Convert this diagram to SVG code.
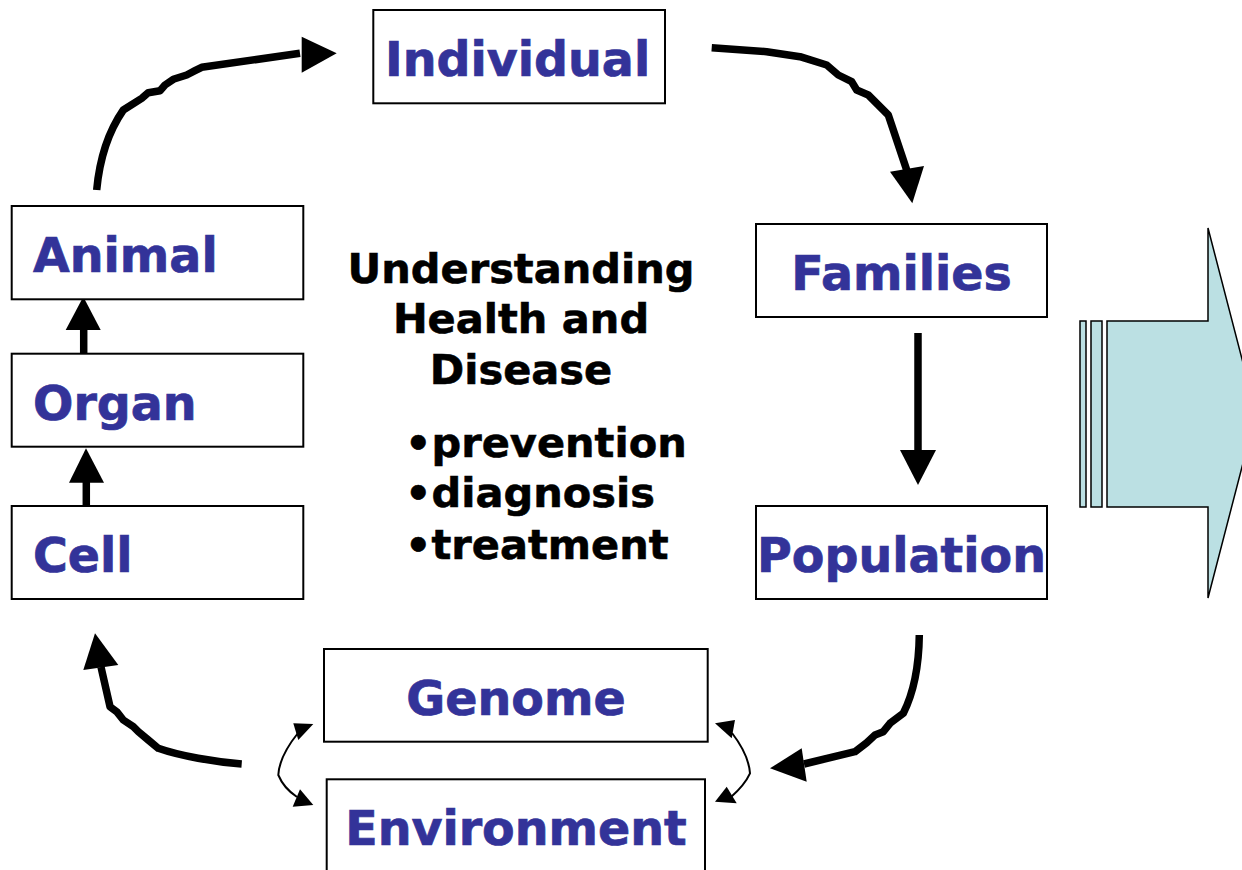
<svg xmlns="http://www.w3.org/2000/svg" width="1242" height="870" viewBox="0 0 1242 870">
<style>
.box{fill:#ffffff;stroke:#000000;stroke-width:2}
.lbl{font-family:"DejaVu Sans",Verdana,sans-serif;font-weight:bold;font-size:47.5px;fill:#333399;stroke:#333399;stroke-width:0.7}
.ctr{font-family:"DejaVu Sans",Verdana,sans-serif;font-weight:bold;font-size:41.5px;fill:#000000;stroke:#000000;stroke-width:0.6}
.thick{fill:none;stroke:#000000;stroke-width:7.5;stroke-linejoin:round}
.thin{fill:none;stroke:#000000;stroke-width:2}
.head{fill:#000000;stroke:none}
.big{fill:#BBE0E3;stroke:#000000;stroke-width:1.5;stroke-linejoin:miter}
</style>
<rect width="1242" height="870" fill="#ffffff"/>
<g id="connectors">
<path class="thick" d="M96.7,190 C99,165 106,135 123.3,110 L141.7,98.3 L148.3,92.7 L160,90.7 L165,85 L173.3,79.3 L186.7,75 L195,70.7 L201.7,67.3 L300,53.3"/>
<polygon class="head" points="301.7,36.7 336.7,53.3 301.7,72.7"/>
<path class="thick" d="M711.7,47.7 L766.7,51.7 L800,56.7 L826.7,65 L838.3,75 L851.7,81.7 L856.7,90 L868.3,95 L878.3,105 L888.3,115 L906.7,170"/>
<polygon class="head" points="890,171.7 924,166 912.3,203.3"/>
<path class="thick" d="M918,333 L918,452"/>
<polygon class="head" points="900,450 936,450 918,485"/>
<path class="thick" d="M919.3,635 C919,660 915,690 903.3,713.3 L890,723.3 L883.3,731.7 L875,735 L866.7,742.7 L855,751.7 L804,764"/>
<polygon class="head" points="801.7,748.3 806.7,781.7 770,768.3"/>
<path class="thick" d="M241.7,764 C215,762 180,756 158.3,748.3 L148.3,740 L138.3,731.7 L133.3,726.7 L123.3,720 L116.7,711.7 L110,706.7 L101,667"/>
<polygon class="head" points="95,633.3 83.3,670 118.3,665"/>
<path class="thick" d="M83.7,354 L83.7,328"/>
<polygon class="head" points="83.3,296.7 65.7,330 100.7,330"/>
<path class="thick" d="M86.3,506 L86.3,480"/>
<polygon class="head" points="86,448.3 69,482.7 104,482.7"/>
<path class="thin" d="M298,733 C286,748 279,762 278.3,775 C282,784 288,791 297,797"/>
<polygon class="head" points="293.3,723.3 313.3,724 298.3,740"/>
<polygon class="head" points="300,789.3 292.7,806.7 313.3,805"/>
<path class="thin" d="M732,733 C742,746 749,760 750,773.3 C746,782 740,789 731,797"/>
<polygon class="head" points="715,723.3 735,720 731.7,738.3"/>
<polygon class="head" points="715,801.7 726.7,786.7 736.7,803.3"/>
</g>
<g id="bigarrow">
<rect class="big" x="1080" y="321" width="6" height="186"/>
<rect class="big" x="1091" y="321" width="11" height="186"/>
<polygon class="big" points="1107,321 1208,321 1208,228 1256,413 1208,598 1208,507 1107,507"/>
</g>
<g id="individual">
<rect class="box" x="373.3" y="10" width="291.7" height="93.3"/>
<text class="lbl" x="385" y="76">Individual</text>
</g>
<g id="animal">
<rect class="box" x="11.7" y="206" width="291.6" height="93.3"/>
<text class="lbl" x="33" y="272">Animal</text>
</g>
<g id="organ">
<rect class="box" x="11.7" y="353.7" width="291.6" height="93"/>
<text class="lbl" x="33" y="420">Organ</text>
</g>
<g id="cell">
<rect class="box" x="11.7" y="506" width="291.6" height="93"/>
<text class="lbl" x="33" y="572">Cell</text>
</g>
<g id="families">
<rect class="box" x="756" y="224" width="291" height="93"/>
<text class="lbl" x="901.5" y="290" text-anchor="middle">Families</text>
</g>
<g id="population">
<rect class="box" x="756" y="506" width="291" height="93"/>
<text class="lbl" x="901.5" y="572" text-anchor="middle">Population</text>
</g>
<g id="genome">
<rect class="box" x="324" y="649" width="383.7" height="92.7"/>
<text class="lbl" x="516" y="715" text-anchor="middle">Genome</text>
</g>
<g id="environment">
<rect class="box" x="326.7" y="779.3" width="378.3" height="100"/>
<text class="lbl" x="516" y="845" text-anchor="middle">Environment</text>
</g>
<g id="center-text">
<text class="ctr" x="521" y="283" text-anchor="middle">Understanding</text>
<text class="ctr" x="521" y="333" text-anchor="middle">Health and</text>
<text class="ctr" x="521" y="384" text-anchor="middle">Disease</text>
<text class="ctr" x="405" y="457">•prevention</text>
<text class="ctr" x="405" y="507">•diagnosis</text>
<text class="ctr" x="405" y="559">•treatment</text>
</g>
</svg>
